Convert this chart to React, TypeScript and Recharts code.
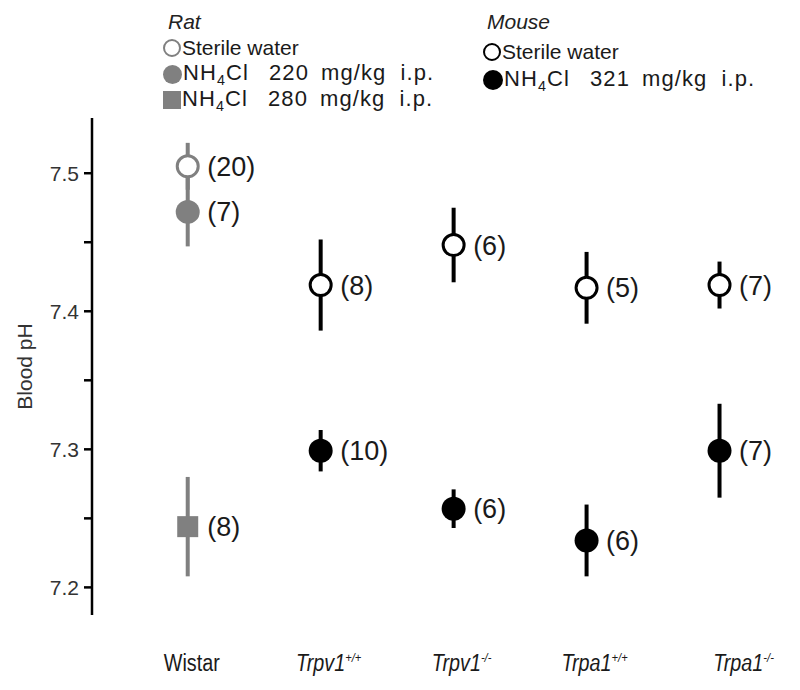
import React from 'react';
import { ScatterChart, Scatter, XAxis, YAxis, ErrorBar, LabelList } from 'recharts';

// x-axis groups
const groupNames = ['Wistar', 'Trpv1', 'Trpv1', 'Trpa1', 'Trpa1'];
const genotypes = ['', '+/+', '-/-', '+/+', '-/-'];
const groupIdx = [0, 1, 2, 3, 4];

// rat (Wistar only)
const ratWaterPH = [7.505];
const ratWaterSem = [0.017];
const ratWaterN = [20];

const rat220PH = [7.472];
const rat220Sem = [0.025];
const rat220N = [7];

const rat280PH = [7.244];
const rat280Sem = [0.036];
const rat280N = [8];

// mouse (Trpv1+/+, Trpv1-/-, Trpa1+/+, Trpa1-/-)
const mouseIdx = [1, 2, 3, 4];
const mouseWaterPH = [7.419, 7.448, 7.417, 7.419];
const mouseWaterSem = [0.033, 0.027, 0.026, 0.017];
const mouseWaterN = [8, 6, 5, 7];

const mouseNH4PH = [7.299, 7.257, 7.234, 7.299];
const mouseNH4Sem = [0.015, 0.014, 0.026, 0.034];
const mouseNH4N = [10, 6, 6, 7];

const yTicks = [7.2, 7.25, 7.3, 7.35, 7.4, 7.45, 7.5];

const toPoints = (xs: number[], ph: number[], sem: number[], n: number[]) =>
  ph.map((v, i) => ({ x: xs[i], ph: v, sem: sem[i], n: n[i] }));

const ratWater = toPoints([0], ratWaterPH, ratWaterSem, ratWaterN);
const rat220 = toPoints([0], rat220PH, rat220Sem, rat220N);
const rat280 = toPoints([0], rat280PH, rat280Sem, rat280N);
const mouseWater = toPoints(mouseIdx, mouseWaterPH, mouseWaterSem, mouseWaterN);
const mouseNH4 = toPoints(mouseIdx, mouseNH4PH, mouseNH4Sem, mouseNH4N);

const FONT = '"Liberation Sans", Arial, sans-serif';
const GREY = '#808080';

const openCircle = (color: string) => (p: any) =>
  <circle cx={p.cx} cy={p.cy} r={10.5} fill="#fff" stroke={color} strokeWidth={3} />;
const filledCircle = (color: string) => (p: any) =>
  <circle cx={p.cx} cy={p.cy} r={12} fill={color} />;
const square = (color: string) => (p: any) =>
  <rect x={p.cx - 10.5} y={p.cy - 10.5} width={21} height={21} fill={color} />;

function GroupTick(props: any) {
  const { x, y, payload } = props;
  const i = payload.value as number;
  // labels sit a little right of the data columns in the original
  const nudge = i === 4 ? 24 : i === 0 ? 4 : 8;
  return (
    <g transform={`translate(${x + nudge},${y + 48}) scale(0.86,1)`}>
      <text x={0} y={0} textAnchor="middle" fontFamily={FONT} fontSize={23} fill="#1a1a1a">
        <tspan fontStyle={i === 0 ? 'normal' : 'italic'}>{groupNames[i]}</tspan>
        {genotypes[i] ? <tspan dy={-9} fontSize={13} fontStyle="italic">{genotypes[i]}</tspan> : null}
      </text>
    </g>
  );
}

// pH tick: short tick mark at every 0.05, label only on the tenths
function PhTick(props: any) {
  const { x, y, payload } = props;
  const v = payload.value as number;
  const major = Math.round(v * 100) % 10 === 0;
  return (
    <g>
      <line x1={x + 5} x2={x + 13} y1={y} y2={y} stroke="#000" strokeWidth={2.5} />
      {major ? (
        <text x={x} y={y} textAnchor="end" dominantBaseline="central" fontFamily={FONT} fontSize={21} fill="#333">
          {v.toFixed(1)}
        </text>
      ) : null}
    </g>
  );
}

const nLabel = (
  <LabelList dataKey="n" position="right" offset={15} formatter={(v: any) => `(${v})`}
    style={{ fontFamily: FONT, fontSize: 27, fill: '#1a1a1a' }} />
);

function Marker({ kind, color, size }: { kind: string; color: string; size: number }) {
  const base: React.CSSProperties = { display: 'inline-block', width: size, height: size, marginRight: 1, boxSizing: 'border-box' };
  if (kind === 'open') return <span style={{ ...base, borderRadius: '50%', border: `2.5px solid ${color}`, background: '#fff' }} />;
  if (kind === 'filled') return <span style={{ ...base, borderRadius: '50%', background: color }} />;
  return <span style={{ ...base, background: color }} />;
}

function NH4({ dose }: { dose: string }) {
  return (
    <span style={{ whiteSpace: 'pre', letterSpacing: 1.1, fontSize: 22 }}>
      NH<span style={{ fontSize: '0.65em', position: 'relative', top: '0.35em' }}>4</span>Cl
      <span style={{ marginLeft: 20 }}>{dose}</span>
      <span style={{ marginLeft: 12 }}>mg/kg</span>
      <span style={{ marginLeft: 14 }}>i.p.</span>
    </span>
  );
}

function LegendRow({ left, cy, children }: { left: number; cy: number; children: React.ReactNode }) {
  return (
    <div style={{ position: 'absolute', left, top: cy - 13, height: 26, display: 'flex', alignItems: 'center', lineHeight: '26px', fontFamily: FONT, fontSize: 21, color: '#1a1a1a', whiteSpace: 'pre' }}>
      {children}
    </div>
  );
}

export default function App() {
  return (
    <div style={{ position: 'absolute', left: 0, top: 0, width: 800, height: 690, background: '#fff' }}>
      <ScatterChart width={800} height={690} margin={{ top: 118, right: 14, bottom: 0, left: 0 }}>
        <XAxis type="number" dataKey="x" domain={[-0.72, 4.5]} ticks={groupIdx} interval={0}
          axisLine={false} tickLine={false} height={75} tick={<GroupTick />} allowDataOverflow />
        <YAxis type="number" dataKey="ph" domain={[7.18, 7.54]} ticks={yTicks} interval={0} width={92}
          allowDataOverflow tickSize={8} tickMargin={5}
          axisLine={{ stroke: '#000', strokeWidth: 2.5 }} tickLine={false}
          tick={<PhTick />}
          label={{
            content: (p: any) => {
              const vb = p.viewBox || { x: 0, y: 118, height: 497 };
              const cx = vb.x + 24;
              const cy = vb.y + vb.height / 2;
              return (
                <text x={cx} y={cy} transform={`rotate(-90 ${cx} ${cy})`} textAnchor="middle" dominantBaseline="central"
                  fontFamily={FONT} fontSize={21} fill="#333">Blood pH</text>
              );
            },
          }} />

        <Scatter data={ratWater} shape={openCircle(GREY)} isAnimationActive={false}>
          <ErrorBar dataKey="sem" direction="y" width={0} stroke={GREY} strokeWidth={4} />
          {nLabel}
        </Scatter>
        <Scatter data={rat220} shape={filledCircle(GREY)} isAnimationActive={false}>
          <ErrorBar dataKey="sem" direction="y" width={0} stroke={GREY} strokeWidth={4} />
          {nLabel}
        </Scatter>
        <Scatter data={rat280} shape={square(GREY)} isAnimationActive={false}>
          <ErrorBar dataKey="sem" direction="y" width={0} stroke={GREY} strokeWidth={4} />
          {nLabel}
        </Scatter>
        <Scatter data={mouseWater} shape={openCircle('#000')} isAnimationActive={false}>
          <ErrorBar dataKey="sem" direction="y" width={0} stroke="#000" strokeWidth={4} />
          {nLabel}
        </Scatter>
        <Scatter data={mouseNH4} shape={filledCircle('#000')} isAnimationActive={false}>
          <ErrorBar dataKey="sem" direction="y" width={0} stroke="#000" strokeWidth={4} />
          {nLabel}
        </Scatter>
      </ScatterChart>

      {/* rat legend */}
      <LegendRow left={168} cy={22}><i style={{ color: '#222' }}>Rat</i></LegendRow>
      <LegendRow left={163} cy={48}><Marker kind="open" color={GREY} size={18} />Sterile water</LegendRow>
      <LegendRow left={163} cy={74}><Marker kind="filled" color={GREY} size={19} /><NH4 dose="220" /></LegendRow>
      <LegendRow left={163} cy={100}><Marker kind="square" color={GREY} size={18} /><NH4 dose="280" /></LegendRow>

      {/* mouse legend */}
      <LegendRow left={487} cy={22}><i style={{ color: '#222' }}>Mouse</i></LegendRow>
      <LegendRow left={483} cy={52}><Marker kind="open" color="#000" size={18} />Sterile water</LegendRow>
      <LegendRow left={483} cy={80}><Marker kind="filled" color="#000" size={20} /><NH4 dose="321" /></LegendRow>
    </div>
  );
}
